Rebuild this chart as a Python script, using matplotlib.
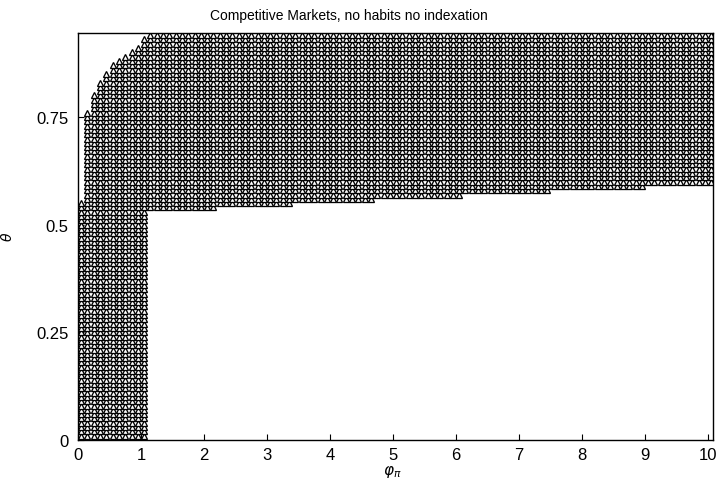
"""
Determinacy region: Competitive Markets, no habits no indexation.
"""

import matplotlib

matplotlib.use("Agg")
import matplotlib.pyplot as plt
import numpy as np

# parameter grid used in the simulation
phi_grid = np.round(np.arange(0.05, 10.1, 0.1), 2)
theta_grid = np.round(np.arange(0.01, 0.945, 0.01), 2)

# left block (phi <= 1.05): theta runs from bottom up to these tops
left_phi = [0.05, 0.15, 0.25, 0.35, 0.45, 0.55, 0.65, 0.75, 0.85, 0.95, 1.05]
left_top = [0.55, 0.76, 0.80, 0.83, 0.85, 0.87, 0.88, 0.89, 0.90, 0.91, 0.93]

# right part: lowest theta for each phi step (step ends at step_end)
step_end = [2.15, 3.35, 4.65, 6.05, 7.45, 8.95, 10.05]
step_floor = [0.54, 0.55, 0.56, 0.57, 0.58, 0.59, 0.60]

x_ticks = [0, 1, 2, 3, 4, 5, 6, 7, 8, 9, 10]
y_ticks = [0, 0.25, 0.5, 0.75]
y_tick_labels = ["0", "0.25", "0.5", "0.75"]

plt.rcParams["font.family"] = ["Liberation Sans", "DejaVu Sans"]

# collect stable points, column by column, bottom to top
px, py = [], []
for p in phi_grid:
    if p <= left_phi[-1] + 1e-9:
        top = left_top[int(np.argmin(np.abs(np.array(left_phi) - p)))]
        lo = theta_grid[0]
    else:
        top = theta_grid[-1]
        idx = int(np.searchsorted(step_end, p - 1e-9))
        lo = step_floor[min(idx, len(step_floor) - 1)]
    for t in theta_grid:
        if lo - 1e-9 <= t <= top + 1e-9:
            px.append(p)
            py.append(t)

fig = plt.figure(figsize=(7.16, 4.85), dpi=100)
ax = fig.add_axes([78 / 716, 44 / 485, 635 / 716, 407 / 485])

ax.plot(px, py, linestyle="none", marker="^", markersize=5.0,
        markerfacecolor="white", markeredgecolor="black", markeredgewidth=0.95)

ax.set_xlim(0, 10.08)
ax.set_ylim(0, 0.945)
ax.set_xticks(x_ticks)
ax.set_xticklabels([str(v) for v in x_ticks])
ax.set_yticks(y_ticks)
ax.set_yticklabels(y_tick_labels)
ax.tick_params(direction="in", length=4, width=0.8, labelsize=12)
ax.tick_params(axis="y", pad=7)
ax.tick_params(axis="x", pad=5)
for s in ax.spines.values():
    s.set_linewidth(1.0)

ax.set_xlabel(r"$\varphi_\pi$", fontsize=11)
ax.xaxis.set_label_coords((392 - 78) / 635, -(464 - 441) / 407)
ax.xaxis.label.set_va("top")
ax.set_ylabel(r"$\theta$", fontsize=10)
ax.yaxis.set_label_coords(-(78 - 15) / 635, (441 - 237) / 407)

fig.text(349 / 716, 1 - 16 / 485, "Competitive Markets, no habits no indexation",
         ha="center", va="center", fontsize=10)

plt.savefig("out.png", dpi=100)
plt.close()
